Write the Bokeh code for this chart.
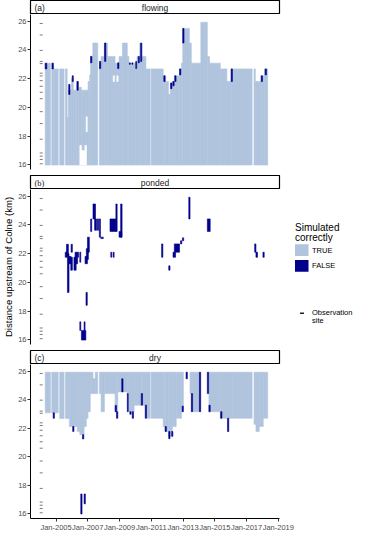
import math
from datetime import datetime, timedelta

from bokeh.core.properties import value
from bokeh.embed import file_html
from bokeh.layouts import column, row
from bokeh.models import ColumnDataSource, DatetimeTickFormatter, FixedTicker, Range1d
from bokeh.plotting import figure
from bokeh.resources import INLINE

# ---------------- data (dates in decimal years, distances in km) ----------------
# observation sites (km upstream of Colne)
obs_sites = [25.84, 25.04, 23.97, 23.2, 23.05, 22.38, 22.19, 21.86, 21.47, 21.05,
             20.6, 19.7, 18.87, 17.78, 16.82, 16.6, 16.37, 16.07]
obs_date = 2004.07

# (a) flowing - simulated correctly (TRUE): columns from the lowest site up to top
flow_true_start = [2004.32, 2004.73, 2004.85, 2005.23, 2005.60, 2005.70, 2005.78, 2005.97, 2006.09, 2006.30,
                   2006.42, 2006.60, 2007.02, 2007.12, 2007.18, 2007.32, 2007.74, 2007.84, 2008.04, 2008.25,
                   2008.72, 2008.97, 2009.18, 2009.49, 2009.59, 2010.00, 2010.10, 2010.27, 2010.41, 2010.66,
                   2010.99, 2011.75, 2011.91, 2012.08, 2012.20, 2012.33, 2012.45, 2012.78, 2012.90, 2012.98,
                   2013.40, 2013.52, 2014.12, 2014.53, 2014.67, 2015.35, 2015.76, 2016.03, 2017.47, 2017.55,
                   2017.92, 2018.13]
flow_true_end = [2004.65, 2004.85, 2005.14, 2005.51, 2005.70, 2005.78, 2005.97, 2006.09, 2006.30, 2006.42,
                 2006.60, 2007.02, 2007.12, 2007.18, 2007.32, 2007.63, 2007.84, 2008.04, 2008.25, 2008.72,
                 2008.97, 2009.18, 2009.49, 2009.59, 2010.00, 2010.10, 2010.27, 2010.41, 2010.66, 2010.93,
                 2011.75, 2011.91, 2012.08, 2012.20, 2012.33, 2012.45, 2012.78, 2012.90, 2012.98, 2013.40,
                 2013.52, 2014.12, 2014.53, 2014.67, 2015.35, 2015.76, 2016.03, 2017.35, 2017.55, 2017.92,
                 2018.13, 2018.33]
flow_true_top = [23.08, 23.08, 22.68, 22.68, 22.68, 19.3, 21.2, 22.0, 21.2, 21.8,
                 21.4, 21.2, 21.8, 22.26, 23.55, 24.48, 23.08, 23.55, 24.48, 23.55,
                 23.08, 23.55, 24.48, 23.55, 23.08, 22.68, 23.55, 24.48, 23.55, 22.68,
                 22.68, 22.2, 21.8, 20.9, 21.7, 21.8, 22.2, 22.68, 23.08, 25.5,
                 24.48, 23.08, 25.93, 23.55, 23.08, 22.68, 21.8, 22.68, 22.68, 21.8,
                 22.2, 22.68]
flow_base_km = 15.98
# (a) stretches with no observation inside the flowing columns
flow_gap_start = [2006.50, 2006.50, 2006.82, 2006.90, 2008.60, 2008.83]
flow_gap_end = [2006.92, 2006.60, 2006.92, 2006.97, 2008.68, 2008.91]
flow_gap_bottom = [15.98, 17.0, 17.0, 18.3, 21.8, 21.8]
flow_gap_top = [17.0, 17.35, 17.35, 19.35, 22.2, 22.2]
# (a) flowing - FALSE
flow_false_start = [2004.32, 2004.75, 2005.80, 2006.02, 2006.32, 2007.18, 2007.74, 2008.06, 2008.88, 2009.62,
                    2009.78, 2010.02, 2010.18, 2010.33, 2011.79, 2012.22, 2012.36, 2012.48, 2012.78, 2012.98,
                    2016.03, 2017.92, 2018.17]
flow_false_end = [2004.42, 2004.83, 2005.88, 2006.09, 2006.40, 2007.26, 2007.82, 2008.14, 2008.96, 2009.68,
                  2009.84, 2010.08, 2010.25, 2010.40, 2011.87, 2012.30, 2012.44, 2012.56, 2012.86, 2013.06,
                  2016.11, 2018.00, 2018.25]
flow_false_bottom = [22.68, 22.68, 20.9, 21.8, 21.2, 23.1, 22.7, 23.2, 22.7, 23.0,
                     23.0, 22.7, 23.1, 23.2, 21.8, 21.3, 21.5, 21.8, 22.26, 24.48,
                     21.8, 21.8, 22.26]
flow_false_top = [23.08, 23.08, 21.6, 22.2, 21.8, 23.55, 23.2, 24.48, 23.1, 23.1,
                  23.1, 23.2, 23.55, 24.48, 22.2, 21.7, 21.8, 22.2, 22.68, 25.5,
                  22.68, 22.2, 22.68]

# (b) ponded - FALSE (no correctly simulated ponding)
pond_false_start = [2005.58, 2005.66, 2005.72, 2005.80, 2005.93, 2005.95, 2006.13, 2006.20, 2006.36, 2006.50,
                    2006.50, 2006.77, 2006.60, 2006.89, 2006.83, 2006.91, 2006.98, 2007.18, 2007.33, 2007.43,
                    2007.60, 2007.73, 2007.82, 2008.40, 2008.45, 2008.60, 2008.77, 2008.97, 2009.07, 2011.65,
                    2012.10, 2012.37, 2012.45, 2012.84, 2012.96, 2013.36, 2014.53, 2017.51, 2017.59, 2018.03]
pond_false_end = [2005.72, 2005.78, 2005.82, 2005.95, 2006.03, 2006.03, 2006.27, 2006.36, 2006.42, 2006.56,
                  2006.56, 2006.83, 2006.88, 2006.97, 2006.98, 2007.04, 2007.10, 2007.25, 2007.49, 2007.55,
                  2007.68, 2007.80, 2007.98, 2008.77, 2008.51, 2008.66, 2008.85, 2009.14, 2009.16, 2011.73,
                  2012.18, 2012.53, 2012.78, 2012.92, 2013.04, 2013.44, 2014.71, 2017.59, 2017.69, 2018.11]
pond_false_bottom = [21.75, 21.9, 19.3, 21.3, 20.85, 22.1, 20.85, 21.3, 21.75, 21.4,
                     16.65, 16.65, 15.98, 18.4, 21.3, 21.6, 22.1, 23.55, 24.42, 23.63,
                     23.63, 23.15, 23.05, 23.55, 21.75, 21.75, 23.55, 23.15, 23.15, 21.75,
                     20.85, 21.75, 22.1, 22.68, 22.9, 24.42, 23.55, 22.1, 21.75, 21.75]
pond_false_top = [22.1, 22.65, 22.0, 21.8, 21.75, 22.65, 21.75, 22.1, 22.1, 22.1,
                  17.25, 17.25, 16.65, 19.3, 21.8, 22.35, 23.15, 24.42, 25.46, 24.42,
                  24.42, 24.42, 23.15, 24.42, 22.1, 22.1, 25.46, 23.55, 25.46, 22.68,
                  21.15, 22.1, 22.68, 22.9, 23.1, 25.93, 24.42, 22.68, 22.1, 22.1]

# (c) dry - TRUE
dry_true_start = [2004.32, 2004.73, 2005.23, 2005.60, 2005.84, 2006.19, 2006.34, 2006.50, 2006.77, 2006.91,
                  2007.02, 2007.16, 2007.33, 2007.47, 2007.74, 2007.84, 2008.05, 2008.72, 2008.81, 2008.89,
                  2009.49, 2009.59, 2009.92, 2010.37, 2010.45, 2010.72, 2010.99, 2011.75, 2011.91, 2012.08,
                  2012.20, 2012.33, 2012.57, 2012.90, 2013.44, 2013.60, 2014.63, 2015.35, 2016.11, 2017.47,
                  2017.59, 2017.80, 2018.05]
dry_true_end = [2004.65, 2005.14, 2005.51, 2005.84, 2006.19, 2006.34, 2006.50, 2006.77, 2006.91, 2007.02,
                2007.16, 2007.33, 2007.47, 2007.63, 2007.84, 2008.05, 2008.72, 2008.81, 2008.89, 2009.49,
                2009.59, 2009.92, 2010.37, 2010.45, 2010.72, 2010.93, 2011.75, 2011.91, 2012.08, 2012.20,
                2012.33, 2012.57, 2012.90, 2013.02, 2013.60, 2014.03, 2015.35, 2016.11, 2017.35, 2017.59,
                2017.80, 2018.05, 2018.33]
dry_true_bottom = [23.08, 23.08, 22.68, 22.68, 22.12, 22.12, 21.78, 21.55, 22.12, 22.7,
                   23.16, 24.43, 24.43, 24.43, 24.43, 23.16, 24.43, 23.6, 23.16, 24.55,
                   24.43, 23.16, 23.62, 24.43, 23.62, 22.7, 22.7, 22.12, 21.77, 21.43,
                   21.77, 22.12, 22.7, 23.55, 24.43, 23.16, 23.16, 22.7, 22.7, 22.28,
                   21.77, 22.12, 22.7]
dry_true_top = [25.93, 25.93, 25.93, 25.93, 25.93, 25.93, 25.93, 25.93, 25.93, 25.93,
                25.93, 25.93, 25.47, 25.93, 25.93, 25.93, 25.93, 25.93, 25.93, 25.93,
                25.93, 25.93, 25.93, 25.93, 25.93, 25.93, 25.93, 25.93, 25.93, 25.93,
                25.93, 25.93, 25.93, 25.93, 25.93, 25.93, 25.93, 25.93, 25.93, 25.93,
                25.93, 25.93, 25.93]
# (c) dry - FALSE
dry_false_start = [2004.82, 2006.05, 2006.67, 2006.56, 2006.77, 2008.72, 2008.81, 2009.14, 2009.49, 2009.65,
                   2009.80, 2010.37, 2010.62, 2011.87, 2012.10, 2012.28, 2012.94, 2013.19, 2013.52, 2014.03,
                   2014.53, 2014.63, 2015.37, 2015.80]
dry_false_end = [2004.90, 2006.13, 2006.75, 2006.64, 2006.85, 2008.81, 2008.89, 2009.22, 2009.55, 2009.73,
                 2009.88, 2010.45, 2010.70, 2011.95, 2012.18, 2012.36, 2013.02, 2013.27, 2013.60, 2014.11,
                 2014.61, 2014.71, 2015.45, 2015.88]
dry_false_bottom = [22.7, 21.78, 21.25, 15.98, 16.7, 23.16, 22.7, 24.55, 23.16, 22.98,
                    22.7, 23.62, 22.7, 21.77, 21.27, 21.43, 23.16, 25.47, 23.16, 23.16,
                    24.43, 23.16, 22.7, 21.77]
dry_false_top = [23.08, 22.12, 21.55, 17.39, 17.39, 23.6, 23.16, 25.47, 24.43, 23.16,
                 23.16, 24.43, 23.62, 22.12, 21.77, 21.77, 23.55, 25.93, 24.43, 25.93,
                 25.93, 23.62, 23.16, 22.7]

y_ticks = [16, 18, 20, 22, 24, 26]
x_tick_years = [2005, 2007, 2009, 2011, 2013, 2015, 2017, 2019]
panel_letters = ["(a)", "(b)", "(c)"]
panel_names = ["flowing", "ponded", "dry"]
legend_labels = ["TRUE", "FALSE"]
y_title = "Distance upstream of Colne (km)"

TRUE_COL = "#B0C4DE"
FALSE_COL = "#00008B"
FONT = "Liberation Sans"


def to_dt(v):
    y = int(math.floor(v))
    start = datetime(y, 1, 1)
    ndays = (datetime(y + 1, 1, 1) - start).days
    return start + timedelta(days=(v - y) * ndays)


def to_ms(d):
    return (d - datetime(1970, 1, 1)).total_seconds() * 1000.0


X0, X1 = 2003.395, 2019.074
Y0, Y1 = 15.67, 26.47
x_range = Range1d(start=to_dt(X0), end=to_dt(X1))

LEFT = 25
RIGHT = 15
FRAME_W = 254
FIG_W = LEFT + FRAME_W + RIGHT
FRAME_H = 155
GAP = 6
STRIP_H = 14
XAXIS_H = 15
LW = 59
TOTAL_H = 3 * STRIP_H + 3 * FRAME_H + 2 * GAP + XAXIS_H


def add_quads(p, starts, ends, bottoms, tops, color):
    src = ColumnDataSource(dict(left=[to_dt(v) for v in starts],
                                right=[to_dt(v) for v in ends],
                                bottom=bottoms, top=tops))
    p.quad(left="left", right="right", bottom="bottom", top="top", source=src,
           fill_color=color, line_color=color, line_width=0.6)


def make_panel(show_x, ylabel=None):
    p = figure(width=FIG_W, height=FRAME_H + (XAXIS_H if show_x else GAP),
               x_axis_type="datetime", x_range=x_range, y_range=Range1d(Y0, Y1),
               x_axis_location="below" if show_x else None,
               output_backend="svg", toolbar_location=None,
               min_border_left=LEFT, min_border_right=RIGHT, min_border_top=0,
               min_border_bottom=XAXIS_H if show_x else GAP)
    p.grid.visible = False
    p.outline_line_color = None
    p.yaxis.ticker = FixedTicker(ticks=y_ticks)
    axes = list(p.yaxis) + (list(p.xaxis) if show_x else [])
    for ax in axes:
        ax.axis_line_color = "black"
        ax.axis_line_width = 1
        ax.major_tick_line_color = "#333333"
        ax.major_tick_in = 0
        ax.major_tick_out = 3
        ax.minor_tick_line_color = None
        ax.minor_tick_in = 0
        ax.minor_tick_out = 0
        ax.major_label_standoff = 1
        ax.major_label_text_font = FONT
        ax.major_label_text_font_size = "7.5px"
        ax.major_label_text_color = "#4D4D4D"
    if ylabel:
        p.yaxis.axis_label = ylabel
        p.yaxis.axis_label_standoff = 1
        p.yaxis.axis_label_text_font = FONT
        p.yaxis.axis_label_text_font_size = "9.6px"
        p.yaxis.axis_label_text_font_style = "normal"
        p.yaxis.axis_label_text_color = "black"
    if show_x:
        ticks = [to_ms(datetime(y, 1, 1)) for y in x_tick_years]
        p.xaxis.ticker = FixedTicker(ticks=ticks)
        fmt = "%b-%Y"
        p.xaxis.formatter = DatetimeTickFormatter(
            microseconds=fmt, milliseconds=fmt, seconds=fmt, minsec=fmt, minutes=fmt,
            hourmin=fmt, hours=fmt, days=fmt, months=fmt, years=fmt)
    # observation sites
    p.scatter(x=[to_dt(obs_date)] * len(obs_sites), y=obs_sites, marker="dash",
              size=3, line_color="#7A7A7A", line_width=1)
    return p


def make_strip(letter, name, letter_font):
    s = figure(width=FIG_W, height=STRIP_H, x_range=Range1d(0, 1), y_range=Range1d(0, 1),
               x_axis_location=None, y_axis_location=None,
               output_backend="svg", toolbar_location=None,
               min_border_left=LEFT, min_border_right=RIGHT, min_border_top=0, min_border_bottom=0)
    s.grid.visible = False
    s.outline_line_color = "black"
    s.outline_line_width = 1.2
    s.text(x=[0.016], y=[0.5], text=[letter], text_font=value(letter_font),
           text_font_size=value("8.5px"), text_color="#1A1A1A",
           text_align="left", text_baseline="middle")
    s.text(x=[0.5], y=[0.5], text=[name], text_font=value(FONT),
           text_font_size=value("8.5px"), text_color="#1A1A1A",
           text_align="center", text_baseline="middle")
    return s


pa = make_panel(False)
add_quads(pa, flow_true_start, flow_true_end, [flow_base_km] * len(flow_true_start), flow_true_top, TRUE_COL)
add_quads(pa, flow_gap_start, flow_gap_end, flow_gap_bottom, flow_gap_top, "white")
add_quads(pa, flow_false_start, flow_false_end, flow_false_bottom, flow_false_top, FALSE_COL)

pb = make_panel(False, ylabel=y_title)
add_quads(pb, pond_false_start, pond_false_end, pond_false_bottom, pond_false_top, FALSE_COL)

pc = make_panel(True)
add_quads(pc, dry_true_start, dry_true_end, dry_true_bottom, dry_true_top, TRUE_COL)
add_quads(pc, dry_false_start, dry_false_end, dry_false_bottom, dry_false_top, FALSE_COL)

sa = make_strip(panel_letters[0], panel_names[0], FONT)
sb = make_strip(panel_letters[1], panel_names[1], "Liberation Serif")
sc = make_strip(panel_letters[2], panel_names[2], FONT)

# legend (canvas coordinates, y downwards)
lg = figure(width=LW, height=TOTAL_H, x_range=Range1d(0, LW), y_range=Range1d(TOTAL_H, 0),
            x_axis_location=None, y_axis_location=None, output_backend="svg",
            toolbar_location=None, min_border=0)
lg.grid.visible = False
lg.outline_line_color = None
lg.text(x=[0.5, 0.5], y=[227, 237], text=["Simulated", "correctly"], text_font=value(FONT),
        text_font_size=value("10px"), text_color="black", text_align="left",
        text_baseline="alphabetic")
lg.quad(left=[0.5, 0.5], right=[14, 14], top=[243.7, 259.5], bottom=[255.5, 271.3],
        fill_color=[TRUE_COL, FALSE_COL], line_color=None)
lg.text(x=[17.5, 17.5], y=[249.6, 265.4], text=legend_labels, text_font=value(FONT),
        text_font_size=value("7.5px"), text_color="black", text_align="left",
        text_baseline="middle")
lg.scatter(x=[7.5], y=[312.7], marker="dash", size=4, line_color="#222222", line_width=1.5)
lg.text(x=[17.5, 17.5], y=[311.5, 319.7], text=["Observation", "site"], text_font=value(FONT),
        text_font_size=value("7.5px"), text_color="black", text_align="left",
        text_baseline="alphabetic")

layout = row(column(sa, pa, sb, pb, sc, pc), lg)
open("out.html", "w").write(file_html(layout, INLINE))
